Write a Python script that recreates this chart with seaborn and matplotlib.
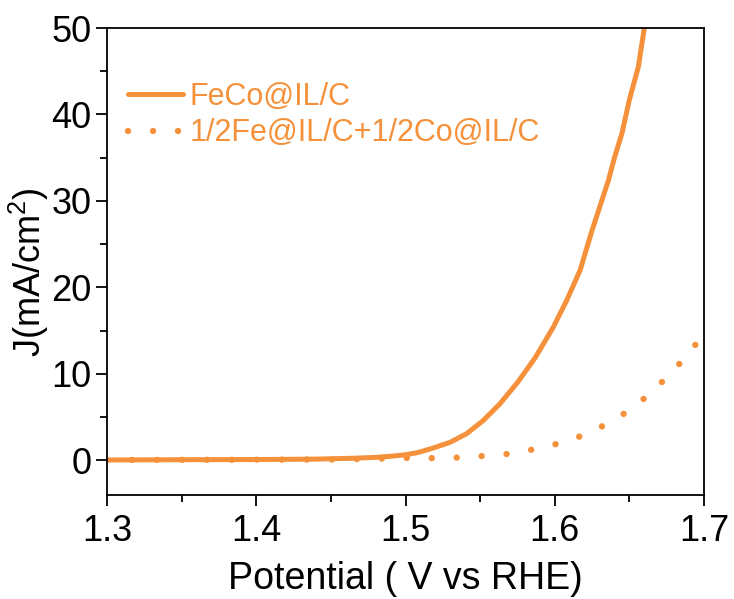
import matplotlib
matplotlib.use("Agg")
import matplotlib.pyplot as plt
from matplotlib.ticker import MultipleLocator, FormatStrFormatter
import seaborn as sns
import pandas as pd

# Data
feco_potential = [1.30, 1.35, 1.40, 1.44, 1.465, 1.480, 1.490, 1.500, 1.508, 1.518, 1.530,
                  1.541, 1.552, 1.563, 1.575, 1.587, 1.599, 1.608, 1.617, 1.625, 1.636,
                  1.640, 1.645, 1.650, 1.656, 1.660]
feco_current = [0.05, 0.08, 0.10, 0.15, 0.25, 0.35, 0.48, 0.65, 0.90, 1.4, 2.1,
                3.1, 4.6, 6.5, 9.0, 11.9, 15.4, 18.5, 22.0, 26.6, 32.4,
                35.0, 37.8, 41.7, 45.5, 50.0]

mix_potential = [1.30, 1.35, 1.40, 1.45, 1.48, 1.505, 1.522, 1.539, 1.555, 1.572, 1.589,
                 1.606, 1.622, 1.637, 1.651, 1.663, 1.675, 1.687, 1.699]
mix_current = [0.05, 0.06, 0.08, 0.10, 0.20, 0.30, 0.25, 0.35, 0.55, 0.8, 1.4,
               2.1, 3.1, 4.4, 5.9, 7.6, 9.6, 11.8, 14.4]

labels = ["FeCo@IL/C", "1/2Fe@IL/C+1/2Co@IL/C"]

df = pd.concat([
    pd.DataFrame({"Potential": feco_potential, "J": feco_current, "sample": labels[0]}),
    pd.DataFrame({"Potential": mix_potential, "J": mix_current, "sample": labels[1]}),
])

sns.set_style("ticks")
plt.rcParams["font.family"] = ["Liberation Sans", "DejaVu Sans"]
plt.rcParams["mathtext.fontset"] = "custom"
plt.rcParams["mathtext.rm"] = "Liberation Sans"
for k in ["text.color", "axes.labelcolor", "xtick.color", "ytick.color", "axes.edgecolor"]:
    plt.rcParams[k] = "black"

color = "#F5913A"
fig = plt.figure(figsize=(7.34, 5.99), dpi=100)
fig.patch.set_facecolor("white")
ax = fig.add_axes([107 / 734, 1 - 495 / 599, (704 - 107) / 734, (495 - 28) / 599])

sns.lineplot(data=df, x="Potential", y="J", hue="sample", style="sample",
             palette=[color, color], dashes=False, ax=ax, legend=False, sort=False,
             estimator=None)
lines = ax.get_lines()
lines[0].set_linewidth(3.6)
lines[0].set_solid_capstyle("round")
lines[0].set_solid_joinstyle("round")
lines[1].set_linewidth(4.6)
lines[1].set_linestyle((0, (0.01, 3.9)))
lines[1].set_dash_capstyle("round")

ax.set_xlim(1.3, 1.7)
ax.set_ylim(-4, 50)
ax.xaxis.set_major_locator(MultipleLocator(0.1))
ax.xaxis.set_minor_locator(MultipleLocator(0.05))
ax.xaxis.set_major_formatter(FormatStrFormatter("%.1f"))
ax.yaxis.set_major_locator(MultipleLocator(10))
ax.yaxis.set_minor_locator(MultipleLocator(5))
ax.tick_params(axis="both", which="major", length=8, width=1.3, labelsize=26,
               direction="out", pad=3)
ax.tick_params(axis="x", which="major", pad=6)
ax.tick_params(axis="both", which="minor", length=5, width=1.3, direction="out")
ax.tick_params(top=False, right=False, which="both")
for s in ax.spines.values():
    s.set_linewidth(1.3)
    s.set_color("black")

ax.set_xlabel("Potential ( V vs RHE)", fontsize=27, labelpad=8)
ax.set_ylabel(r"J(mA/cm$^2$)", fontsize=26)
ax.yaxis.set_label_coords(-0.094, 0.477)

leg = ax.legend(handles=lines, labels=labels, loc="upper left",
                bbox_to_anchor=(0.035, 0.885), frameon=False, fontsize=22,
                handlelength=1.8, handletextpad=0.23, labelspacing=0.22,
                borderaxespad=0, borderpad=0)
for t in leg.get_texts():
    t.set_color(color)

fig.savefig("out.png", dpi=100, facecolor="white")
